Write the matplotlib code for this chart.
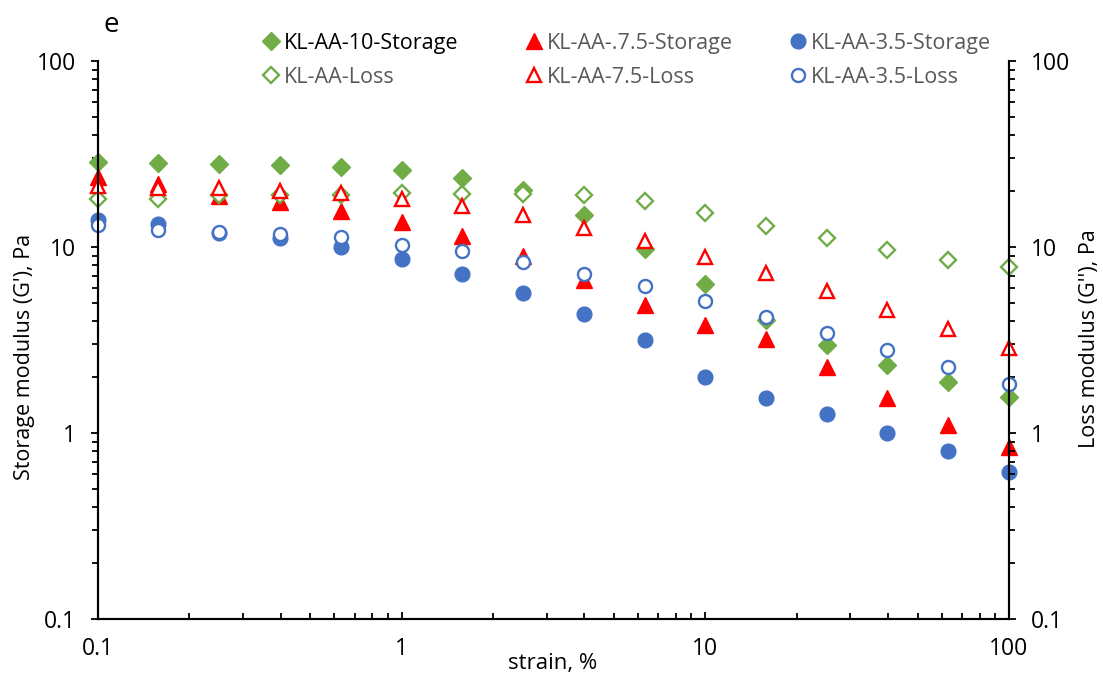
import matplotlib
matplotlib.use("Agg")
import matplotlib.pyplot as plt
from matplotlib.legend import Legend
from matplotlib.ticker import LogLocator, FixedLocator, NullFormatter, FixedFormatter

plt.rcParams['font.family'] = ['Open Sans', 'DejaVu Sans']

strain = [0.1, 0.158, 0.251, 0.398, 0.631, 1.0, 1.585, 2.512, 3.98, 6.31,
          10.0, 15.85, 25.1, 39.8, 63.1, 100.0]

kl10_storage = [28.6, 28.3, 28.1, 27.7, 26.9, 25.8, 23.6, 20.2, 14.8, 9.7,
                6.36, 4.04, 2.96, 2.33, 1.88, 1.56]
kl10_loss = [18.2, 18.2, 19.0, 19.0, 19.0, 19.4, 19.2, 19.2, 19.0, 17.6,
             15.3, 13.0, 11.2, 9.6, 8.48, 7.8]
kl75_storage = [23.9, 21.9, 18.7, 17.5, 15.6, 13.6, 11.5, 8.9, 6.68, 4.9,
                3.79, 3.22, 2.25, 1.54, 1.10, 0.845]
kl75_loss = [21.3, 20.8, 20.7, 20.1, 19.4, 18.1, 16.6, 14.8, 12.7, 10.8,
             8.88, 7.22, 5.78, 4.58, 3.61, 2.86]
kl35_storage = [14.0, 13.3, 11.9, 11.2, 10.0, 8.67, 7.19, 5.69, 4.35, 3.15,
                2.0, 1.55, 1.26, 1.0, 0.80, 0.617]
kl35_loss = [13.1, 12.4, 12.0, 11.7, 11.3, 10.3, 9.49, 8.3, 7.19, 6.15,
             5.11, 4.2, 3.45, 2.78, 2.25, 1.84]

labels = ["KL-AA-10-Storage", "KL-AA-Loss", "KL-AA-.7.5-Storage",
          "KL-AA-7.5-Loss", "KL-AA-3.5-Storage", "KL-AA-3.5-Loss"]
tick_vals = [0.1, 1, 10, 100]
tick_text = ["0.1", "1", "10", "100"]

GREEN = "#70AD47"
RED = "#FF0000"
BLUE = "#4472C4"
W, H = 1103, 679

fig = plt.figure(figsize=(W / 100, H / 100), dpi=100)
ax = fig.add_axes([98 / W, 1 - 619 / H, (1009 - 98) / W, (619 - 61) / H])
ax2 = ax.twinx()

ms_d, ms_t, ms_o = 9.6, 11.0, 10.6
h1, = ax.plot(strain, kl10_storage, 'D', ms=ms_d, color=GREEN, mec=GREEN, ls='none', clip_on=False)
h3, = ax.plot(strain, kl75_storage, '^', ms=ms_t, color=RED, mec=RED, ls='none', clip_on=False)
h5, = ax.plot(strain, kl35_storage, 'o', ms=ms_o, color=BLUE, mec=BLUE, ls='none', clip_on=False)
h2, = ax2.plot(strain, kl10_loss, 'D', ms=ms_d - 1.0, mfc='white', mec=GREEN, mew=1.7, ls='none', clip_on=False)
h4, = ax2.plot(strain, kl75_loss, '^', ms=ms_t - 0.6, mfc='white', mec=RED, mew=1.7, ls='none', clip_on=False)
h6, = ax2.plot(strain, kl35_loss, 'o', ms=ms_o - 1.2, mfc='white', mec=BLUE, mew=1.7, ls='none', clip_on=False)

for a in (ax, ax2):
    a.set_xscale('log')
    a.set_yscale('log')
    a.set_xlim(0.1, 100)
    a.set_ylim(0.1, 100)
    a.spines['top'].set_visible(False)
    for s in a.spines.values():
        s.set_linewidth(1.5)
    a.yaxis.set_major_locator(FixedLocator(tick_vals))
    a.yaxis.set_major_formatter(FixedFormatter(tick_text))
    a.yaxis.set_minor_locator(LogLocator(base=10, subs=range(2, 10)))
    a.yaxis.set_minor_formatter(NullFormatter())
    a.tick_params(axis='y', which='major', direction='out', length=5, width=1.3,
                  labelsize=16.5, pad=11)
    a.tick_params(axis='y', which='minor', direction='out', length=4, width=1.3)

ax.xaxis.set_major_locator(FixedLocator(tick_vals))
ax.xaxis.set_major_formatter(FixedFormatter(tick_text))
ax.xaxis.set_minor_locator(LogLocator(base=10, subs=range(2, 10)))
ax.xaxis.set_minor_formatter(NullFormatter())
ax.tick_params(axis='x', which='major', direction='in', length=5, width=1.3, labelsize=16.5, pad=13)
ax.tick_params(axis='x', which='minor', direction='in', length=4, width=1.3)

ax.set_xlabel("strain, %", fontsize=16)
ax.xaxis.set_label_coords((553 - 98) / 911, (619 - 664) / 558)
ax.xaxis.label.set_va('center')
ax.set_ylabel("Storage modulus (G'), Pa", fontsize=15.5)
ax.yaxis.set_label_coords((24 - 98) / 911, (619 - 357) / 558)
ax.yaxis.label.set_va('center')
ax2.set_ylabel("Loss modulus (G''), Pa", fontsize=15.5)
ax2.yaxis.set_label_coords((1089 - 98) / 911, (619 - 339) / 558)
ax2.yaxis.label.set_va('center')

fig.text(111 / W, 1 - 25 / H, "e", fontsize=20, ha='center', va='center')

# legend: three columns, each with a storage and a loss entry
columns = [((h1, h2), labels[0:2], 262), ((h3, h4), labels[2:4], 525), ((h5, h6), labels[4:6], 789)]
for ci, (hs, labs, xpx) in enumerate(columns):
    leg = Legend(fig, list(hs), labs, loc='upper left',
                 bbox_to_anchor=(xpx / W, 1 - 33 / H), frameon=False,
                 fontsize=15.5, handlelength=0.85, handletextpad=0.15,
                 labelspacing=0.6, borderaxespad=0, borderpad=0)
    for i, t in enumerate(leg.get_texts()):
        t.set_color('black' if (ci == 0 and i == 0) else '#595959')
    fig.add_artist(leg)

fig.savefig("out.png", dpi=100)
